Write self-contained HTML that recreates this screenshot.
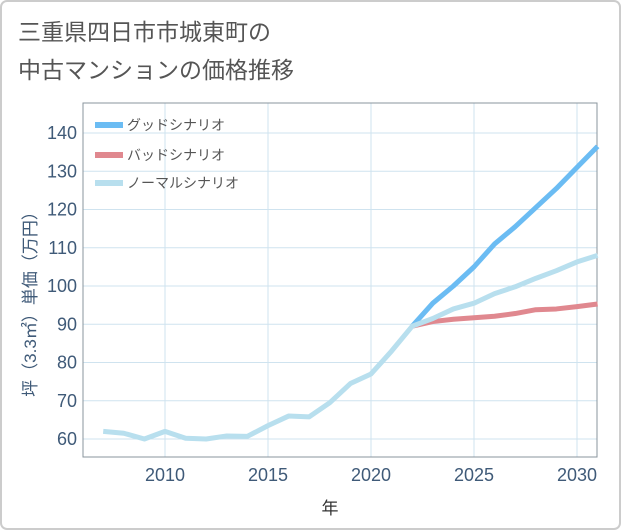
<!DOCTYPE html>
<html><head><meta charset="utf-8"><style>
body{margin:0;background:#fff;}
svg{display:block;font-family:"Liberation Sans","Noto Sans CJK JP",sans-serif;}
</style></head><body>
<svg width="621" height="530">
<rect x="1" y="1" width="619" height="528" rx="6" fill="#fff" stroke="#ccc" stroke-width="2"/>
<text x="18" y="40" font-size="23" fill="#555">三重県四日市市城東町の</text>
<text x="18" y="78" font-size="23" fill="#555">中古マンションの価格推移</text>
<g id="grid"></g>
<rect x="83" y="103" width="514" height="354" fill="none" stroke="#8a949c" stroke-width="1"/>
<g id="axes"></g>
<g id="series"></g>
<text x="330" y="514" font-size="17" fill="#333" text-anchor="middle">年</text>
<text transform="translate(36,300) rotate(-90)" font-size="17" fill="#3f5a78" text-anchor="middle">坪（3.3㎡）単価（万円）</text>
<g>
<line x1="95" y1="125" x2="123" y2="125" stroke="#6bbcf3" stroke-width="6"/>
<text x="127" y="130" font-size="14" fill="#555">グッドシナリオ</text>
<line x1="95" y1="155" x2="123" y2="155" stroke="#e0888f" stroke-width="6"/>
<text x="127" y="160" font-size="14" fill="#555">バッドシナリオ</text>
<line x1="95" y1="183" x2="123" y2="183" stroke="#b8dfee" stroke-width="6"/>
<text x="127" y="188" font-size="14" fill="#555">ノーマルシナリオ</text>
</g>
</svg>
<script>
const years=[2007,2008,2009,2010,2011,2012,2013,2014,2015,2016,2017,2018,2019,2020,2021,2022,2023,2024,2025,2026,2027,2028,2029,2030,2031];
const normal=[62,61.5,60,62,60.2,60,60.8,60.7,63.5,66,65.8,69.5,74.5,77,83,89.5,91.5,94,95.5,98,99.8,102,104,106.3,108];
const futureYears=[2022,2023,2024,2025,2026,2027,2028,2029,2030,2031];
const good=[89.5,95.5,100,105,111,115.5,120.5,125.5,131,136.5];
const bad=[89.5,90.7,91.3,91.7,92.1,92.8,93.8,94,94.6,95.3];
const xTicks=[2010,2015,2020,2025,2030];
const yTicks=[60,70,80,90,100,110,120,130,140];
const NS="http://www.w3.org/2000/svg";
const X=y=>165+(y-2010)*20.6;
const Y=v=>439-(v-60)*3.825;
const grid=document.getElementById('grid'),axes=document.getElementById('axes'),series=document.getElementById('series');
function mk(t,a,p){const e=document.createElementNS(NS,t);for(const k in a)e.setAttribute(k,a[k]);p.appendChild(e);return e;}
xTicks.forEach(t=>{
const l=mk('line',{x1:X(t),x2:X(t),y1:103,y2:457,stroke:'#cfe3ef'},grid);


const tx=mk('text',{x:X(t),y:481,'font-size':18,fill:'#3f5a78','text-anchor':'middle'},axes);
tx.textContent=t;


});
yTicks.forEach(t=>{
const l=mk('line',{x1:83,x2:597,y1:Y(t),y2:Y(t),stroke:'#cfe3ef'},grid);


const tx=mk('text',{x:77,y:Y(t)+6,'font-size':18,fill:'#3f5a78','text-anchor':'end'},axes);
tx.textContent=t;


});
function line(xs,vs,c,name){
const p=mk('polyline',{points:xs.map((x,i)=>X(x)+','+Y(vs[i])).join(' '),fill:'none',stroke:c,'stroke-width':5,'stroke-linejoin':'round'},series);


}
line(futureYears,good,'#6bbcf3','good-scenario-line');
line(futureYears,bad,'#e0888f','bad-scenario-line');
line(years,normal,'#b8dfee','normal-scenario-line');
</script>
</body></html>
